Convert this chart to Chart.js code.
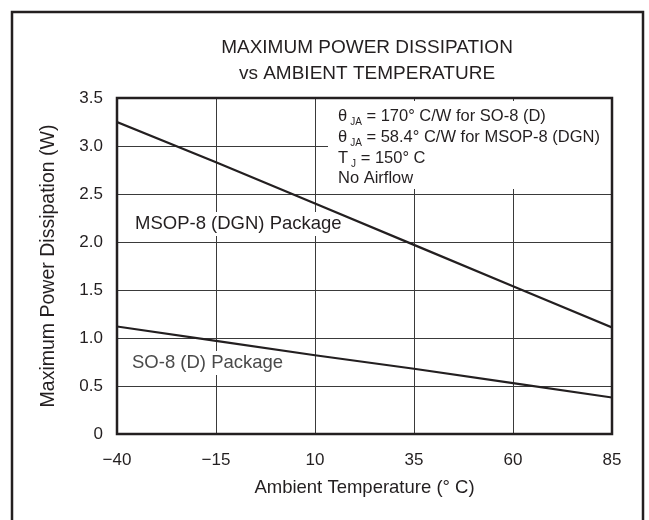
<!DOCTYPE html>
<html>
<head>
<meta charset="utf-8">
<script src="https://cdn.jsdelivr.net/npm/chart.js@4.4.0/dist/chart.umd.min.js"></script>
<style>
  html, body { margin: 0; padding: 0; background: #fff; }
  #chart { display: block; }
</style>
</head>
<body>
<canvas id="chart" width="649" height="520"></canvas>
<script>
// data
const temps = [-40, -15, 10, 35, 60, 85];
const msopWatts = [3.25, 2.83, 2.40, 1.97, 1.54, 1.11];
const so8Watts = [1.12, 0.97, 0.82, 0.68, 0.53, 0.38];
const xTicks = [-40, -15, 10, 35, 60, 85];
const yTicks = [0, 0.5, 1.0, 1.5, 2.0, 2.5, 3.0, 3.5];
const titleLines = ['MAXIMUM POWER DISSIPATION', 'vs AMBIENT TEMPERATURE'];
const noteLines = [
    { sym: 'θ', sub: 'JA', rest: ' = 170° C/W for SO-8 (D)' },
    { sym: 'θ', sub: 'JA', rest: ' = 58.4° C/W for MSOP-8 (DGN)' },
    { sym: 'T', sub: 'J', rest: ' = 150° C' },
    { sym: 'No Airflow', sub: '', rest: '' }
];

const FONT = '"Liberation Sans", Arial, Helvetica, sans-serif';
const INK = '#231f20';
const GRID = '#3a3a3a';

const font = (size) => size + 'px ' + FONT;

// white patches under the text so the grid breaks around it
const patches = [
    { x: 328, y: 101, w: 283, h: 88 },
    { x: 131, y: 212, w: 216, h: 24 },
    { x: 129, y: 351, w: 160, h: 24 }
];

const decorPlugin = {
    id: 'decor',
    beforeDatasetsDraw(chart) {
        const ctx = chart.ctx;
        ctx.save();
        ctx.fillStyle = '#fff';
        patches.forEach(p => ctx.fillRect(p.x, p.y, p.w, p.h));
        ctx.restore();
    },
    afterDatasetsDraw(chart) {
        const { ctx, chartArea: a } = chart;
        ctx.save();
        // plot frame
        ctx.strokeStyle = INK;
        ctx.lineWidth = 2.5;
        ctx.strokeRect(a.left, a.top, a.right - a.left, a.bottom - a.top);
        // outer frame
        ctx.strokeRect(12, 12, 631, 540);

        ctx.fillStyle = INK;
        ctx.textBaseline = 'middle';
        ctx.textAlign = 'center';
        ctx.font = font(19);
        ctx.fillText(titleLines[0], 367, 48);
        ctx.fillText(titleLines[1], 367, 74);

        // notes box
        ctx.textAlign = 'left';
        ctx.textBaseline = 'alphabetic';
        const base = [121, 142, 163, 183];
        noteLines.forEach((ln, i) => {
            let x = 338;
            ctx.font = font(16.5);
            ctx.fillText(ln.sym, x, base[i]);
            x += ctx.measureText(ln.sym).width;
            if (ln.sub) {
                ctx.font = font(10);
                x += 3;
                ctx.fillText(ln.sub, x, base[i] + 4);
                x += ctx.measureText(ln.sub).width;
                ctx.font = font(16.5);
                ctx.fillText(ln.rest, x, base[i]);
            }
        });

        // curve labels
        ctx.textBaseline = 'middle';
        ctx.font = font(18.5);
        ctx.fillStyle = INK;
        ctx.fillText('MSOP-8 (DGN) Package', 135, 224);
        ctx.fillStyle = '#4a4a4a';
        ctx.fillText('SO-8 (D) Package', 132, 363);
        ctx.restore();
    }
};

const fmtX = v => (v < 0 ? '\u2212' + Math.abs(v) : String(v));
const fmtY = v => (v === 0 ? '0' : v.toFixed(1));

new Chart(document.getElementById('chart'), {
    type: 'line',
    data: {
        datasets: [
            {
                label: 'MSOP-8 (DGN)',
                data: temps.map((t, i) => ({ x: t, y: msopWatts[i] })),
                borderColor: INK,
                borderWidth: 2.2,
                pointRadius: 0,
                tension: 0
            },
            {
                label: 'SO-8 (D)',
                data: temps.map((t, i) => ({ x: t, y: so8Watts[i] })),
                borderColor: INK,
                borderWidth: 2.2,
                pointRadius: 0,
                tension: 0
            }
        ]
    },
    options: {
        responsive: false,
        animation: false,
        layout: { padding: { left: 0, right: 37, top: 98, bottom: 0 } },
        plugins: {
            legend: { display: false },
            title: { display: false },
            tooltip: { enabled: false }
        },
        scales: {
            x: {
                type: 'linear',
                min: -40,
                max: 85,
                afterBuildTicks: s => { s.ticks = xTicks.map(v => ({ value: v })); },
                afterFit: s => { s.height = 86; },
                grid: { color: GRID, lineWidth: 1, drawTicks: false },
                border: { display: false },
                ticks: {
                    color: INK,
                    font: { family: FONT, size: 17 },
                    padding: 16,
                    maxRotation: 0,
                    callback: fmtX
                },
                title: {
                    display: true,
                    text: 'Ambient Temperature (° C)',
                    color: INK,
                    font: { family: FONT, size: 18.5 },
                    padding: { top: 0, bottom: 21 }
                }
            },
            y: {
                min: 0,
                max: 3.5,
                afterBuildTicks: s => { s.ticks = yTicks.map(v => ({ value: v })); },
                afterFit: s => { s.width = 117; },
                grid: { color: GRID, lineWidth: 1, drawTicks: false },
                border: { display: false },
                ticks: {
                    color: INK,
                    font: { family: FONT, size: 17 },
                    padding: 14,
                    callback: fmtY
                },
                title: {
                    display: true,
                    text: 'Maximum Power Dissipation (W)',
                    color: INK,
                    font: { family: FONT, size: 19.5 },
                    padding: { top: 37, bottom: 0 }
                }
            }
        }
    },
    plugins: [decorPlugin]
});
</script>
</body>
</html>
